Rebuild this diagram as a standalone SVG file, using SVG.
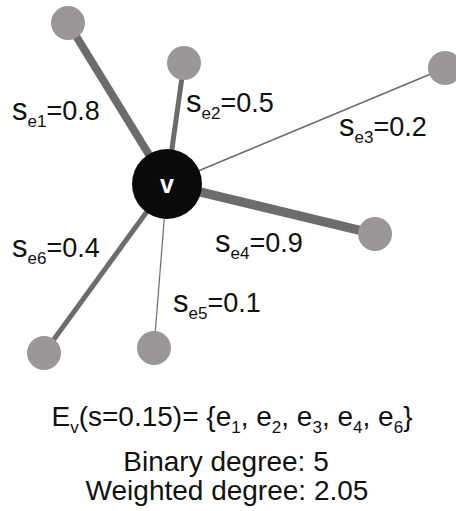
<svg xmlns="http://www.w3.org/2000/svg" width="456" height="511" viewBox="0 0 456 511">
<style>
text{font-family:"Liberation Sans",Arial,sans-serif;fill:#111}
.e{stroke:#6e6b6b;stroke-linecap:butt}
.n{fill:#9b9797}
.lbl{font-size:27px}
.s{font-size:31px}
.sub{font-size:17px}
.bot{font-size:28px;text-anchor:middle}
</style>
<rect width="456" height="511" fill="#fff"/>
<g id="connectors">
<line class="e" x1="167" y1="184" x2="68" y2="23" stroke-width="8"/>
<line class="e" x1="167" y1="184" x2="184" y2="63" stroke-width="5"/>
<line class="e" x1="167" y1="184" x2="445" y2="68" stroke-width="1.6"/>
<line class="e" x1="167" y1="184" x2="375" y2="234" stroke-width="9"/>
<line class="e" x1="167" y1="184" x2="154" y2="348" stroke-width="1.2"/>
<line class="e" x1="167" y1="184" x2="44" y2="353" stroke-width="5"/>
</g>
<g id="n1"><circle class="n" cx="68" cy="23" r="17"/></g>
<g id="n2"><circle class="n" cx="184" cy="63" r="17"/></g>
<g id="n3"><circle class="n" cx="445" cy="68" r="17"/></g>
<g id="n4"><circle class="n" cx="375" cy="234" r="17"/></g>
<g id="n5"><circle class="n" cx="154" cy="348" r="17"/></g>
<g id="n6"><circle class="n" cx="44" cy="353" r="17"/></g>
<g id="v"><circle cx="167" cy="184" r="35" fill="#0a0a0a"/><text x="167" y="193" font-size="25" font-weight="bold" text-anchor="middle" style="fill:#fff">v</text></g>
<g id="labels">
<text class="lbl" x="12" y="120"><tspan class="s">s</tspan><tspan class="sub" dy="7">e1</tspan><tspan dy="-7">=0.8</tspan></text>
<text class="lbl" x="186" y="112"><tspan class="s">s</tspan><tspan class="sub" dy="7">e2</tspan><tspan dy="-7">=0.5</tspan></text>
<text class="lbl" x="339" y="136"><tspan class="s">s</tspan><tspan class="sub" dy="7">e3</tspan><tspan dy="-7">=0.2</tspan></text>
<text class="lbl" x="215" y="252"><tspan class="s">s</tspan><tspan class="sub" dy="7">e4</tspan><tspan dy="-7">=0.9</tspan></text>
<text class="lbl" x="12" y="257"><tspan class="s">s</tspan><tspan class="sub" dy="7">e6</tspan><tspan dy="-7">=0.4</tspan></text>
<text class="lbl" x="173" y="312"><tspan class="s">s</tspan><tspan class="sub" dy="7">e5</tspan><tspan dy="-7">=0.1</tspan></text>
</g>
<g id="caption">
<text class="bot" x="232" y="426">E<tspan class="sub" dy="7">v</tspan><tspan dy="-7">(s=0.15)= {e</tspan><tspan class="sub" dy="7">1</tspan><tspan dy="-7">, e</tspan><tspan class="sub" dy="7">2</tspan><tspan dy="-7">, e</tspan><tspan class="sub" dy="7">3</tspan><tspan dy="-7">, e</tspan><tspan class="sub" dy="7">4</tspan><tspan dy="-7">, e</tspan><tspan class="sub" dy="7">6</tspan><tspan dy="-7">}</tspan></text>
<text class="bot" x="226" y="471">Binary degree: 5</text>
<text class="bot" x="227" y="500">Weighted degree: 2.05</text>
</g>
</svg>
